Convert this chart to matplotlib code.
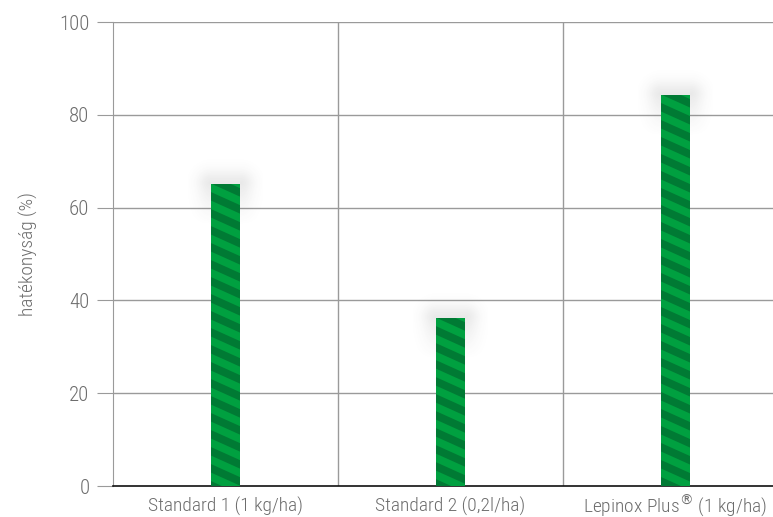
import numpy as np
import matplotlib
matplotlib.use("Agg")
import matplotlib.pyplot as plt
from matplotlib import font_manager as fm
from matplotlib.collections import PolyCollection
from matplotlib.transforms import IdentityTransform

categories = ["Standard 1 (1 kg/ha)", "Standard 2 (0,2l/ha)", "Lepinox Plus$^{\u00ae}$ (1 kg/ha)"]
values = [65.1, 36.2, 84.3]
yticks = [0, 20, 40, 60, 80, 100]
ylabel = "hatékonyság (%)"

# pick a condensed font if one is installed
cands = []
for f in fm.fontManager.ttflist:
    fn = f.fname.lower()
    if f.style != 'normal':
        continue
    if ('condensed' in fn or 'narrow' in fn or f.stretch in ('condensed', 'semi-condensed')) \
            and 'bold' not in fn and 'italic' not in fn and 'oblique' not in fn:
        score = 0
        if 'roboto' in fn:
            score = 4
        elif 'narrow' in fn:
            score = 3
        elif 'dejavusanscondensed' in fn.replace('-', ''):
            score = 2
        else:
            score = 1
        if 'light' in fn:
            score += 0.5
        cands.append((score, f))
cands.sort(key=lambda t: -t[0])
if cands:
    fe = cands[0][1]
    fp = fm.FontProperties(fname=fe.fname)
    fam = fe.name
    narrow = True
else:
    fp = fm.FontProperties(family="DejaVu Sans")
    fam = "DejaVu Sans"
    narrow = False

plt.rcParams['mathtext.fontset'] = 'custom'
plt.rcParams['mathtext.rm'] = fam + ':light'

W, H = 773, 517
fig = plt.figure(figsize=(W / 100, H / 100), dpi=100)
ax = fig.add_axes([113 / W, (H - 486) / H, 675 / W, 464 / H])
ax.set_xlim(-0.5, 2.5)
ax.set_ylim(0, 100)

text_col = "#6d6d6d"
grid_col = "#9a9a9a"
xs_size = 14 if narrow else 11
ys_size = 15 if narrow else 13

ax.set_yticks(yticks)
ax.set_yticklabels([str(t) for t in yticks], color=text_col,
                   fontproperties=fp, fontsize=ys_size)
ax.tick_params(axis='y', length=11.5, width=0.8, color=grid_col, pad=5.5, direction='out')
x = np.arange(len(categories))
ax.set_xticks(x)
ax.set_xticklabels(categories, color=text_col, fontproperties=fp, fontsize=xs_size)
ax.tick_params(axis='x', length=0, pad=18.5)
for lbl in ax.get_xticklabels():
    lbl.set_verticalalignment('baseline')
ax.set_ylabel(ylabel, color=text_col, fontproperties=fp, fontsize=xs_size, labelpad=15)

for t in yticks[1:]:
    ax.axhline(t, color=grid_col, lw=1, zorder=1)
for b in [0.5, 1.5]:
    ax.axvline(b, color=grid_col, lw=1, zorder=1)
for s in ['top', 'right']:
    ax.spines[s].set_visible(False)
ax.spines['left'].set_color(grid_col)
ax.spines['bottom'].set_color('#111111')
ax.spines['bottom'].set_linewidth(1.2)

bar_w = 0.13
light = "#00a040"
dark = "#007a34"

bars = ax.bar(x, values, width=bar_w, color=light, zorder=3)
fig.canvas.draw()
trans = ax.transData

for rect, v in zip(bars, values):
    x0, x1 = rect.get_x(), rect.get_x() + rect.get_width()
    # soft glow around the top of the bar
    gx0, gx1 = x0 - 0.1, x1 + 0.1
    glo, ghi = v - 9, v + 6
    (px0, py0), (px1, py1) = trans.transform([(gx0, glo), (gx1, ghi)])
    nx, ny = int(px1 - px0), int(py1 - py0)
    bx0p, bx1p = trans.transform([(x0, 0), (x1, 0)])[:, 0] - px0
    topp = trans.transform([(0, v)])[0, 1] - py0
    XX, YY = np.meshgrid(np.arange(nx) + 0.5, np.arange(ny) + 0.5)
    dx = np.maximum(np.maximum(bx0p - XX, XX - bx1p), 0)
    dy = np.maximum(YY - topp, 0)
    d = np.sqrt(dx ** 2 + dy ** 2)
    fade = np.clip(YY / topp, 0, 1) ** 1.2
    a = 0.12 * np.exp(-(d / 13.0) ** 2) * fade
    img = np.zeros((ny, nx, 4))
    img[..., :3] = 0.3
    img[..., 3] = a
    ax.imshow(img, extent=(gx0, gx1, glo, ghi), origin='lower',
              aspect='auto', zorder=2, interpolation='bilinear')
    # diagonal stripes (display coordinates), clipped to the bar
    (bx0, by0), (bx1, by1) = trans.transform([(x0, 0), (x1, v)])
    period = 17.0
    slope = 0.45
    polys = []
    c = by1 + slope * (bx1 - bx0) + period
    while c > by0 - period:
        top = c - period * 0.25
        bot = c - period * 0.75
        polys.append([(bx0, top), (bx1, top - slope * (bx1 - bx0)),
                      (bx1, bot - slope * (bx1 - bx0)), (bx0, bot)])
        c -= period
    pc = PolyCollection(polys, facecolors=dark, edgecolors='none',
                        transform=IdentityTransform(), zorder=4)
    ax.add_collection(pc, autolim=False)
    pc.set_clip_path(rect)

ax.set_xlim(-0.5, 2.5)
ax.set_ylim(0, 100)
fig.savefig("out.png", dpi=100)
